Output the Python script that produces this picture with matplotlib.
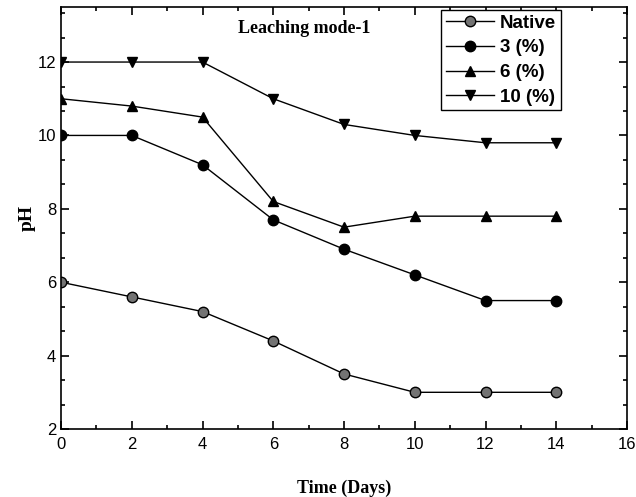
import numpy as np
import matplotlib
matplotlib.use('Agg')
import matplotlib.pyplot as plt
from matplotlib.ticker import MultipleLocator, AutoMinorLocator

days = [0, 2, 4, 6, 8, 10, 12, 14]
native = [6.0, 5.6, 5.2, 4.4, 3.5, 3.0, 3.0, 3.0]
ph_3 = [10.0, 10.0, 9.2, 7.7, 6.9, 6.2, 5.5, 5.5]
ph_6 = [11.0, 10.8, 10.5, 8.2, 7.5, 7.8, 7.8, 7.8]
ph_10 = [12.0, 12.0, 12.0, 11.0, 10.3, 10.0, 9.8, 9.8]
labels = ['Native', '3 (%)', '6 (%)', '10 (%)']

fig = plt.figure(figsize=(6.36, 4.97), dpi=100)
ax = fig.add_axes([61/636, 1-429/497, (627-61)/636, (429-7)/497])

ax.plot(days, native, '-o', color='k', lw=1, ms=7.5, mfc='0.45', mec='k', label=labels[0])
ax.plot(days, ph_3, '-o', color='k', lw=1, ms=7.5, label=labels[1])
ax.plot(days, ph_6, '-^', color='k', lw=1, ms=7.5, label=labels[2])
ax.plot(days, ph_10, '-v', color='k', lw=1, ms=7.5, label=labels[3])

ax.set_xlim(0, 16)
ax.set_ylim(2, 13.5)
ax.xaxis.set_major_locator(MultipleLocator(2))
ax.xaxis.set_minor_locator(MultipleLocator(1))
ax.yaxis.set_major_locator(MultipleLocator(2))
ax.yaxis.set_minor_locator(AutoMinorLocator(3))
ax.tick_params(which='both', direction='in', top=True, right=True, width=1.2)
ax.tick_params(which='major', length=6, labelsize=12)
ax.tick_params(which='minor', length=3)
ax.tick_params(axis='x', pad=6)
for lab in ax.get_xticklabels() + ax.get_yticklabels():
    lab.set_family('Liberation Sans')
for s in ax.spines.values():
    s.set_linewidth(1.2)

ax.set_xlabel('Time (Days)', family='Liberation Serif', fontweight='bold', fontsize=13, labelpad=20)
ax.set_ylabel('pH', family='Liberation Serif', fontweight='bold', fontsize=14, labelpad=1)
ax.text(6.87, 12.92, 'Leaching mode-1', family='Liberation Serif', fontweight='bold',
        fontsize=13, ha='center', va='center')

leg = ax.legend(loc='upper left', bbox_to_anchor=((441-61)/566, 1-3/422), frameon=True,
                fancybox=False, edgecolor='k', framealpha=1, borderpad=0.25,
                labelspacing=0.4, handlelength=2.6, handletextpad=0.3, borderaxespad=0,
                prop={'family': 'Liberation Sans', 'weight': 'bold', 'size': 13.5})
leg.get_frame().set_linewidth(1.0)

fig.savefig('out.png', dpi=100)
